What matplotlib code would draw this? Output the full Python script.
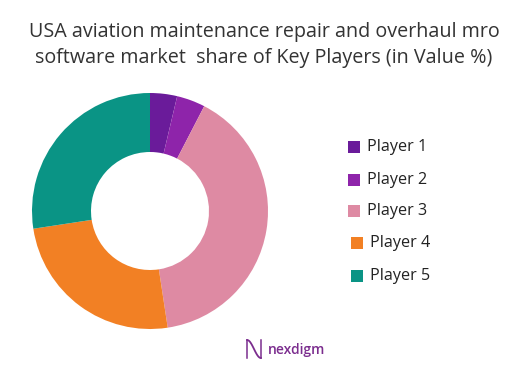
import matplotlib
matplotlib.use("Agg")
import matplotlib.pyplot as plt
import numpy as np

labels = ["Player 1", "Player 2", "Player 3", "Player 4", "Player 5"]
values = [3.7, 3.9, 40.0, 25.0, 27.4]
colors = ["#6a1b9a", "#8e24aa", "#de8aa3", "#f28024", "#0a9485"]
title = "USA aviation maintenance repair and overhaul mro\nsoftware market  share of Key Players (in Value %)"

W, H = 516, 366
fig = plt.figure(figsize=(W/100, H/100), dpi=100)
fig.patch.set_facecolor("white")
plt.rcParams['font.family'] = ['Open Sans', 'DejaVu Sans']

# donut axes: center (150, 211), radius 118
cx, cy, r = 150, 211, 118
ax = fig.add_axes([(cx - r)/W, 1 - (cy + r)/H, 2*r/W, 2*r/H])
wedges, _ = ax.pie(values, colors=colors, startangle=90, counterclock=False,
                   radius=1.0, wedgeprops=dict(width=0.5, edgecolor="none"))
ax.set_xlim(-1, 1); ax.set_ylim(-1, 1)
ax.set_aspect("equal")
ax.axis("off")

fig.text(264/W, 1 - 45/H, title, ha="center", va="center", fontsize=14.2,
         color="#333333", linespacing=1.35)

# legend
ys = [147, 180, 211, 243, 276]
xoff = [0, 0, 0, 3, 3]
for lab, col, y, dx in zip(labels, colors, ys, xoff):
    fig.patches.append(plt.Rectangle(((348 + dx)/W, 1 - (y + 6)/H), 12/W, 12/H,
                                     transform=fig.transFigure, facecolor=col,
                                     edgecolor="none"))
    fig.text((367 + dx)/W, 1 - y/H, lab, ha="left", va="center", fontsize=11.6,
             color="#222222")

# logo
lax = fig.add_axes([245/W, 1 - 359/H, 18/W, 20/H])
t = np.linspace(0, 1, 50)
lax.plot(t, 0.5 + 0.45*np.cos(np.pi*t), color="#7b2d8e", lw=1.3)
lax.plot([0.0, 0.0], [0.05, 0.95], color="#7b2d8e", lw=1.1)
lax.plot([1.0, 1.0], [0.05, 0.95], color="#7b2d8e", lw=1.1)
lax.set_xlim(-0.15, 1.15); lax.set_ylim(0, 1)
lax.axis("off")
fig.text(268/W, 1 - 350/H, "nexdigm", ha="left", va="center", fontsize=10,
         color="#7b2d8e", fontweight="semibold")

fig.savefig("out.png", dpi=100, facecolor="white")
